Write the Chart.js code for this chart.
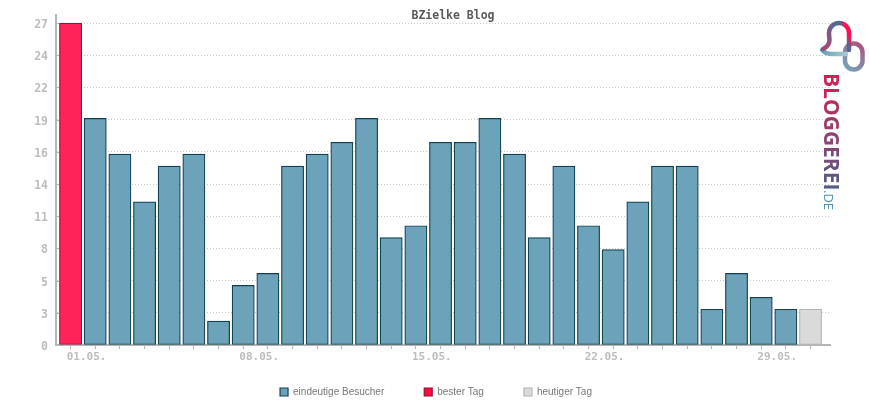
<!DOCTYPE html>
<html>
<head>
<meta charset="utf-8">
<style>
  html, body { margin: 0; padding: 0; background: #fff; }
  #wrap { width: 870px; height: 400px; }
</style>
<script src="https://cdn.jsdelivr.net/npm/chart.js@4"></script>
</head>
<body>
<div id="wrap"><canvas id="chart" width="870" height="400"></canvas></div>
<script>
// data
const days = ['01.05.','02.05.','03.05.','04.05.','05.05.','06.05.','07.05.','08.05.','09.05.','10.05.','11.05.','12.05.','13.05.','14.05.','15.05.','16.05.','17.05.','18.05.','19.05.','20.05.','21.05.','22.05.','23.05.','24.05.','25.05.','26.05.','27.05.','28.05.','29.05.','30.05.','31.05.'];
const visitors = [null,19,16,12,15,16,2,5,6,15,16,17,19,9,10,17,17,19,16,9,15,10,8,12,15,15,3,6,4,3,null];
const bestDay = [27,null,null,null,null,null,null,null,null,null,null,null,null,null,null,null,null,null,null,null,null,null,null,null,null,null,null,null,null,null,null];
const today = [null,null,null,null,null,null,null,null,null,null,null,null,null,null,null,null,null,null,null,null,null,null,null,null,null,null,null,null,null,null,3];
const yTickValues = [0,2.7,5.4,8.1,10.8,13.5,16.2,18.9,21.6,24.3,27];
const yTickLabels = ['0','3','5','8','11','14','16','19','22','24','27'];
const seriesNames = ['eindeutige Besucher','bester Tag','heutiger Tag'];

const GREY = '#b5b5b5';
const TICK_GREY = '#bcbcbc';
const toPoints = (arr) => arr.map((v, i) => ({ x: i, y: v }));

const barDefaults = {
    borderWidth: 1.2,
    borderSkipped: false,
    barThickness: 22.2,
    grouped: false
};

// title and legend do not sit centred in the reference, move them after layout
const shiftBoxes = {
    id: 'shiftBoxes',
    afterLayout(chart) {
        chart.titleBlock.left += 38;
        chart.titleBlock.right += 38;
        chart.legend.left += 21;
        chart.legend.right += 21;
    }
};

// logo in the upper right corner, drawn over the chart
const logoPlugin = {
    id: 'logo',
    afterDraw(chart) {
        const ctx = chart.ctx;
        ctx.save();
        ctx.lineCap = 'round';
        ctx.lineWidth = 4.5;

        // ring
        let g = ctx.createLinearGradient(843, 70, 865, 45);
        g.addColorStop(0, '#6fa8bd');
        g.addColorStop(0.55, '#8d7fa0');
        g.addColorStop(1, '#b34b78');
        ctx.strokeStyle = g;
        ctx.beginPath();
        ctx.roundRect(845, 43.5, 17.5, 26, 8.7);
        ctx.stroke();

        // bubble bottom
        g = ctx.createLinearGradient(822, 50, 845, 54);
        g.addColorStop(0, '#5fa3b8');
        g.addColorStop(1, '#a9c6d2');
        ctx.strokeStyle = g;
        ctx.beginPath();
        ctx.moveTo(822, 50);
        ctx.quadraticCurveTo(826, 54, 831, 54);
        ctx.lineTo(846, 54);
        ctx.stroke();

        // bubble outline
        g = ctx.createLinearGradient(826, 40, 852, 30);
        g.addColorStop(0, '#a04a78');
        g.addColorStop(0.5, '#4f6c90');
        g.addColorStop(0.72, '#5a6690');
        g.addColorStop(0.8, '#ff1050');
        g.addColorStop(1, '#ff1050');
        ctx.strokeStyle = g;
        ctx.beginPath();
        ctx.moveTo(823, 49);
        ctx.quadraticCurveTo(829.5, 46, 829.5, 40);
        ctx.lineTo(829, 34);
        ctx.arc(839, 33, 10, Math.PI, 0);
        ctx.lineTo(849, 50);
        ctx.stroke();

        // vertical text
        ctx.translate(824, 73);
        ctx.rotate(Math.PI / 2);
        g = ctx.createLinearGradient(0, 0, 118, 0);
        g.addColorStop(0, '#dc1a50');
        g.addColorStop(0.5, '#94406f');
        g.addColorStop(1, '#4c5f85');
        ctx.fillStyle = g;
        ctx.textBaseline = 'alphabetic';
        ctx.textAlign = 'left';
        ctx.font = 'bold 21px "Open Sans"';
        ctx.fillText('BLOGGEREI', 0, 0);
        ctx.fillStyle = '#4f8fae';
        ctx.font = '13px "Open Sans"';
        ctx.fillText('.DE', 117, 0);
        ctx.restore();
    }
};

// short tick marks right of the y axis line
const yTickMarks = {
    id: 'yTickMarks',
    beforeDatasetsDraw(chart) {
        const { ctx, scales: { y }, chartArea } = chart;
        ctx.save();
        ctx.strokeStyle = GREY;
        ctx.lineWidth = 1;
        y.ticks.forEach(t => {
            const py = Math.round(y.getPixelForValue(t.value)) + 0.5;
            ctx.beginPath();
            ctx.moveTo(chartArea.left, py);
            ctx.lineTo(chartArea.left + 3, py);
            ctx.stroke();
        });
        ctx.restore();
    }
};

new Chart(document.getElementById('chart'), {
    type: 'bar',
    data: {
        datasets: [
            Object.assign({ label: seriesNames[0], data: toPoints(visitors), backgroundColor: '#6ca2ba', borderColor: '#0f4053' }, barDefaults),
            Object.assign({ label: seriesNames[1], data: toPoints(bestDay), backgroundColor: '#ff2359', borderColor: '#a00d3a' }, barDefaults),
            Object.assign({ label: seriesNames[2], data: toPoints(today), backgroundColor: '#dadada', borderColor: '#b5b5b5' }, barDefaults)
        ]
    },
    plugins: [shiftBoxes, yTickMarks, logoPlugin],
    options: {
        responsive: false,
        animation: false,
        layout: { autoPadding: false, padding: { left: 0, right: 40, top: -3, bottom: -7 } },
        plugins: {
            tooltip: { enabled: false },
            title: {
                display: true,
                text: 'BZielke Blog',
                color: '#5a5a5a',
                font: { family: '"DejaVu Sans Mono"', size: 11.5, weight: 'bold' },
                padding: { top: 3, bottom: -8 }
            },
            legend: {
                position: 'bottom',
                labels: {
                    boxWidth: 8,
                    boxHeight: 8,
                    padding: 40,
                    color: '#777777',
                    font: { family: '"Liberation Sans"', size: 10 },
                    generateLabels(chart) {
                        const items = Chart.defaults.plugins.legend.labels.generateLabels(chart);
                        items[1].fillStyle = '#ff0a42';
                        return items;
                    }
                }
            }
        },
        scales: {
            x: {
                type: 'linear',
                offset: false,
                min: -0.59,
                max: 30.79,
                afterBuildTicks(scale) {
                    scale.ticks = days.map((d, i) => ({ value: i }));
                },
                afterFit(scale) { scale.height = 2; },
                border: { color: GREY, width: 2 },
                grid: { offset: false, drawOnChartArea: false, drawTicks: true, tickLength: 4, tickColor: GREY, tickWidth: 1 },
                ticks: {
                    autoSkip: false,
                    maxRotation: 0,
                    minRotation: 0,
                    mirror: true,
                    labelOffset: 16,
                    padding: -19,
                    color: TICK_GREY,
                    font: { family: '"DejaVu Sans Mono"', size: 11, weight: 'bold' },
                    callback: (v) => (v % 7 === 0 ? days[v] : '')
                }
            },
            y: {
                min: 0,
                max: 27.68,
                afterBuildTicks(scale) {
                    scale.ticks = yTickValues.map(v => ({ value: v }));
                },
                afterFit(scale) { scale.width = 56; },
                border: { color: GREY, width: 2, dash: [1, 2] },
                grid: { color: '#c8c8c8', lineWidth: 1, drawTicks: false },
                ticks: {
                    padding: 8,
                    labelOffset: 2,
                    color: TICK_GREY,
                    font: { family: '"DejaVu Sans Mono"', size: 11.5, weight: 'bold' },
                    callback: (v) => yTickLabels[yTickValues.indexOf(v)]
                }
            }
        }
    }
});
</script>
</body>
</html>
